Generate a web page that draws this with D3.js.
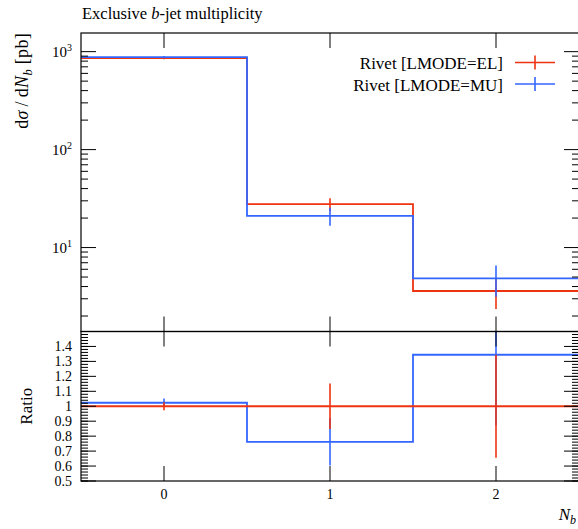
<!DOCTYPE html>
<html>
<head>
<meta charset="utf-8">
<script src="https://cdn.jsdelivr.net/npm/d3@7"></script>
<style>
  html, body { margin: 0; padding: 0; background: #fff; }
  svg { display: block; }
  text { font-family: "Liberation Serif", "DejaVu Serif", serif; fill: #000; }
</style>
</head>
<body>
<svg id="chart" width="578" height="529"></svg>
<script>
// ---- data ----
const binCenters = [0, 1, 2];
const binEdges = [-0.5, 0.5, 1.5, 2.5];
const elValues = [860, 27.7, 3.6];
const elErrors = [23, 4.2, 1.24];
const muValues = [880, 21.1, 4.84];
const muErrors = [25, 4.4, 1.7];
const seriesNames = ["Rivet [LMODE=EL]", "Rivet [LMODE=MU]"];
const seriesColors = ["#ee3311", "#3366ff"];
const xTickValues = [0, 1, 2];
const yMainMajor = [10, 100, 1000];
const yMainExps = ["1", "2", "3"];
const ratioTickLabels = ["0.5", "0.6", "0.7", "0.8", "0.9", "1", "1.1", "1.2", "1.3", "1.4"];

// ---- layout ----
const svg = d3.select("#chart");
const L = 81, R = 579, T = 33, MB = 331.5, RB = 481;

const x = d3.scaleLinear().domain([-0.5, 2.5]).range([L, R]);
const y = d3.scaleLog().domain([1.39, 1550]).range([MB, T]);
const yr = d3.scaleLinear().domain([0.5, 1.5]).range([RB, MB]);

svg.append("defs").call(d => {
  d.append("clipPath").attr("id", "clipMain").append("rect")
    .attr("x", L).attr("y", T).attr("width", R - L).attr("height", MB - T);
  d.append("clipPath").attr("id", "clipRatio").append("rect")
    .attr("x", L).attr("y", MB).attr("width", R - L).attr("height", RB - MB);
});

function stepPath(vals, ys) {
  let p = "";
  vals.forEach((v, i) => {
    const x0 = x(binEdges[i]), x1 = x(binEdges[i + 1]);
    p += (i === 0 ? "M" : "L") + x0 + "," + ys(v) + "L" + x1 + "," + ys(v);
  });
  return p;
}

function drawSeries(g, vals, errs, ys, color) {
  g.append("path").attr("d", stepPath(vals, ys))
    .attr("fill", "none").attr("stroke", color).attr("stroke-width", 1.8);
  g.selectAll(null).data(vals).enter().append("line")
    .attr("x1", (d, i) => x(binCenters[i])).attr("x2", (d, i) => x(binCenters[i]))
    .attr("y1", (d, i) => ys(Math.max(d - errs[i], 1e-3)))
    .attr("y2", (d, i) => ys(d + errs[i]))
    .attr("stroke", color).attr("stroke-width", 1.6);
}

// main plot
const gMain = svg.append("g").attr("clip-path", "url(#clipMain)");
drawSeries(gMain, elValues, elErrors, y, seriesColors[0]);
drawSeries(gMain, muValues, muErrors, y, seriesColors[1]);

// ratio plot
const muRatio = muValues.map((v, i) => v / elValues[i]);
const muRatioErr = muErrors.map((e, i) => e / elValues[i]);
const elRatio = elValues.map(() => 1);
const elRatioErr = elErrors.map((e, i) => e / elValues[i]);
const gRatio = svg.append("g").attr("clip-path", "url(#clipRatio)");
drawSeries(gRatio, muRatio, muRatioErr, yr, seriesColors[1]);
drawSeries(gRatio, elRatio, elRatioErr, yr, seriesColors[0]);

// ---- axes ----
const axG = svg.append("g").attr("stroke", "#000");
function tickLine(x1, y1, x2, y2, w) {
  axG.append("line").attr("x1", x1).attr("y1", y1).attr("x2", x2).attr("y2", y2)
    .attr("stroke-width", w || 1);
}
// main y ticks (log)
const minorMain = [];
[1, 10, 100, 1000].forEach(dec => { for (let k = 2; k <= 9; k++) minorMain.push(dec * k); });
minorMain.filter(v => v >= 1.39 && v <= 1550).forEach(v => {
  tickLine(L, y(v), L + 7, y(v)); tickLine(R, y(v), R - 7, y(v));
});
yMainMajor.forEach(v => {
  tickLine(L, y(v), L + 15, y(v)); tickLine(R, y(v), R - 15, y(v));
});
// ratio y ticks
d3.range(0, 51).map(i => 0.5 + i * 0.02).forEach(v => {
  tickLine(L, yr(v), L + 7, yr(v)); tickLine(R, yr(v), R - 7, yr(v));
});
ratioTickLabels.forEach(s => {
  const v = +s;
  tickLine(L, yr(v), L + 15, yr(v)); tickLine(R, yr(v), R - 15, yr(v));
});
// x ticks
xTickValues.forEach(v => {
  const xx = x(v);
  tickLine(xx, T, xx, T + 15); tickLine(xx, MB, xx, MB - 15);
  tickLine(xx, MB, xx, MB + 15); tickLine(xx, RB, xx, RB - 15);
});
// frames
svg.append("rect").attr("x", L).attr("y", T).attr("width", R - L).attr("height", MB - T)
  .attr("fill", "none").attr("stroke", "#000").attr("stroke-width", 1.2);
svg.append("rect").attr("x", L).attr("y", MB).attr("width", R - L).attr("height", RB - MB)
  .attr("fill", "none").attr("stroke", "#000").attr("stroke-width", 1.2);

// ---- labels ----
// main y tick labels
yMainMajor.forEach((v, i) => {
  const t = svg.append("text").attr("x", 72).attr("y", y(v) + 5).attr("text-anchor", "end")
    .attr("font-size", 15);
  t.append("tspan").text("10");
  t.append("tspan").attr("font-size", 10).attr("dy", -6).text(yMainExps[i]);
});
// ratio tick labels
ratioTickLabels.forEach(s => {
  svg.append("text").attr("x", 72).attr("y", yr(+s) + 4.5).attr("text-anchor", "end")
    .attr("font-size", 14).text(s);
});
// x tick labels
xTickValues.forEach(v => {
  svg.append("text").attr("x", x(v)).attr("y", 499).attr("text-anchor", "middle")
    .attr("font-size", 14).text(v);
});
// x label
const xl = svg.append("text").attr("x", 576).attr("y", 520).attr("text-anchor", "end").attr("font-size", 17);
xl.append("tspan").attr("font-style", "italic").text("N");
xl.append("tspan").attr("font-style", "italic").attr("font-size", 12).attr("dy", 4).text("b");

// title
const tt = svg.append("text").attr("x", 82).attr("y", 19).attr("font-size", 16.5);
tt.append("tspan").text("Exclusive ");
tt.append("tspan").attr("font-style", "italic").text("b");
tt.append("tspan").text("-jet multiplicity");

// y label main
const yl = svg.append("text").attr("transform", "translate(28," + T + ") rotate(-90)")
  .attr("text-anchor", "end").attr("font-size", 18).attr("letter-spacing", 0.3);
yl.append("tspan").text("d");
yl.append("tspan").attr("font-style", "italic").text("σ");
yl.append("tspan").text("\u2009/\u2009d");
yl.append("tspan").attr("font-style", "italic").text("N");
yl.append("tspan").attr("font-style", "italic").attr("font-size", 12.5).attr("dy", 4).text("b");
yl.append("tspan").attr("dy", -4).text(" [pb]");

// ratio y label
svg.append("text").attr("transform", "translate(32," + yr(1) + ") rotate(-90)")
  .attr("text-anchor", "middle").attr("font-size", 17).text("Ratio");

// legend
const legY = [62.5, 84];
seriesNames.forEach((name, i) => {
  svg.append("text").attr("x", 503).attr("y", legY[i] + 6.5).attr("text-anchor", "end")
    .attr("font-size", 17).text(name);
  svg.append("line").attr("x1", 515).attr("x2", 555).attr("y1", legY[i]).attr("y2", legY[i])
    .attr("stroke", seriesColors[i]).attr("stroke-width", 1.6);
  svg.append("line").attr("x1", 535).attr("x2", 535).attr("y1", legY[i] - 7).attr("y2", legY[i] + 7)
    .attr("stroke", seriesColors[i]).attr("stroke-width", 1.6);
});
</script>
</body>
</html>
